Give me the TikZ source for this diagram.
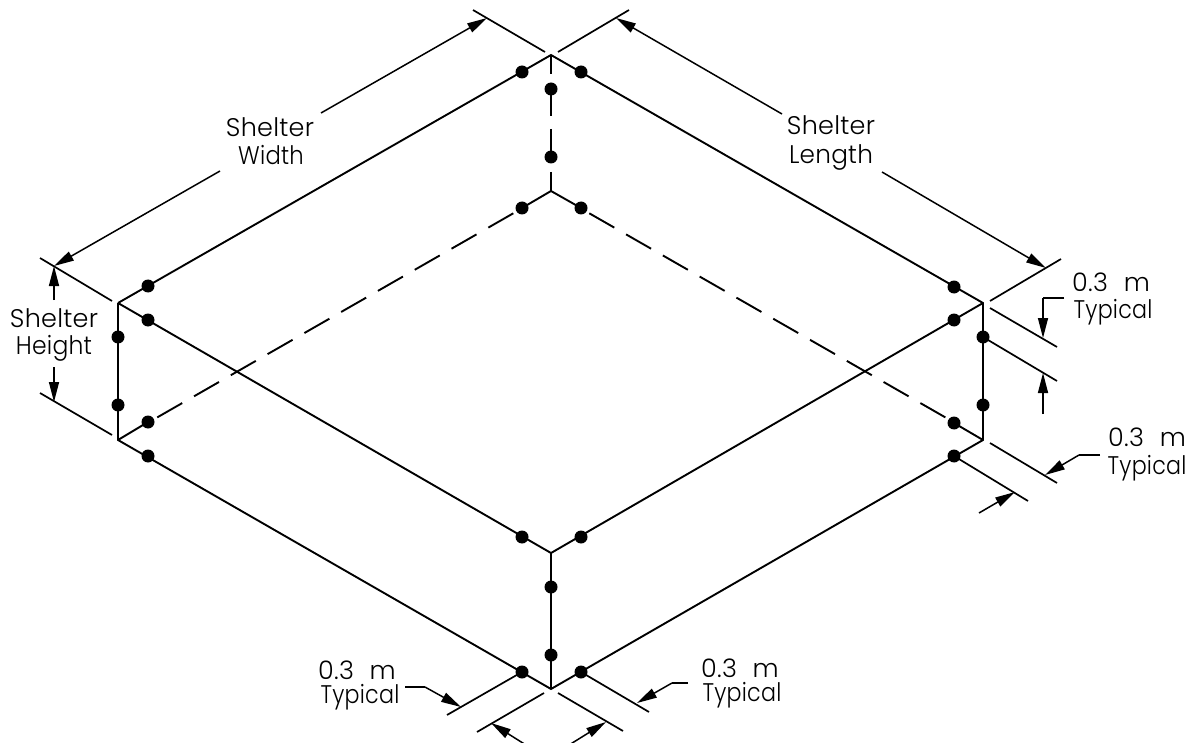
\documentclass[tikz,border=0pt]{standalone}
\usepackage{fontspec}
\usepackage{graphicx}
\newfontfamily\cadfont[LetterSpace=1.0]{Poppins Light}
\usetikzlibrary{arrows.meta}
\newcommand{\gapm}{0.3\hspace{0.62em}m}
\newcommand{\typ}{\scalebox{0.87}[1]{Typical}}
\tikzset{
  edge/.style={line width=1.9pt,black},
  ext/.style={line width=1.7pt,black},
  dim/.style={line width=1.5pt,black,-{Triangle[length=20pt,width=10pt]}},
  plain/.style={line width=1.5pt,black},
  back/.style={line width=1.9pt,black,dash pattern=on 28.8pt off 13.6pt},
  pt/.style={circle,fill=black,inner sep=0pt,minimum size=13pt},
  lab/.style={anchor=base,inner sep=0pt,font=\cadfont\fontsize{25.5}{25.5}\selectfont}
}
\begin{document}
\begin{tikzpicture}[x=1pt,y=-1pt]
\useasboundingbox (0,0) rectangle (1196,743);
% corners
\coordinate (T) at (551,55);   \coordinate (Tb) at (551,191);
\coordinate (L) at (118,303);  \coordinate (Lb) at (118,440);
\coordinate (R) at (983,303);  \coordinate (Rb) at (983,440);
\coordinate (F) at (551,553);  \coordinate (Fb) at (551,689);
% dots
\foreach \n/\x/\y in {a1/522/72,a2/581/72,a3/551/89,a4/551/157,a5/522/208,a6/581/208,
  b1/148/286,b2/148/320,b3/118/337,b4/118/405,b5/148/422,b6/148/456,
  c1/954/287,c2/954/320,c3/983/337,c4/983/405,c5/954/423,c6/954/456,
  d1/522/537,d2/581/537,d3/551/587,d4/551/655,d5/522/672,d6/581/672}
  \node[pt] (\n) at (\x,\y) {};
% solid edges
\draw[edge] (L) -- (T) -- (R) -- (Rb) -- (Fb) -- (Lb) -- (L);
\draw[edge] (L) -- (F) -- (R);
\draw[edge] (F) -- (Fb);
% hidden edges
\draw[edge] (Tb) -- (a5.center);
\draw[edge] (Tb) -- (a6.center);
\draw[edge] (Lb) -- (b5.center);
\draw[edge] (Rb) -- (c5.center);
\coordinate (ls) at (513.3,213.3); \coordinate (le) at (156.7,417.7);
\coordinate (rs) at (589.3,213.3); \coordinate (re) at (945.9,417.7);
\draw[back] (ls) -- (le);
\draw[back] (rs) -- (re);
\coordinate (v1) at (551,74);  \coordinate (v2) at (551,116.5);
\coordinate (v3) at (551,129); \coordinate (v4) at (551,172);
\draw[edge] (T) -- (v1);
\draw[edge] (a3.center) -- (v2);
\draw[edge] (v3) -- (a4.center);
\draw[edge] (v4) -- (Tb);
% extension lines
\coordinate (e1a) at (473,10);   \coordinate (e1b) at (545,52);
\coordinate (e2a) at (558,52);   \coordinate (e2b) at (629,10);
\coordinate (e3a) at (40,258);   \coordinate (e3b) at (112,301);
\coordinate (e4a) at (990,301);  \coordinate (e4b) at (1061,259);
\coordinate (e5a) at (40,393);   \coordinate (e5b) at (112,435);
\coordinate (e6a) at (990,308);  \coordinate (e6b) at (1057,347);
\coordinate (e7b) at (1057,381);
\coordinate (e8a) at (990,443);  \coordinate (e8b) at (1057,483);
\coordinate (e9b) at (1028,501);
\coordinate (e10b) at (447,715); \coordinate (e11b) at (649,712);
\coordinate (e12a) at (544,693); \coordinate (e12b) at (477,732);
\coordinate (e13a) at (558,693); \coordinate (e13b) at (623,731);
\foreach \p/\q in {e1a/e1b,e2a/e2b,e3a/e3b,e4a/e4b,e5a/e5b,e6a/e6b,c3.center/e7b,e8a/e8b,c6.center/e9b,
  d5.center/e10b,d6.center/e11b,e12a/e12b,e13a/e13b}
  \draw[ext] (\p) -- (\q);
% Shelter Width
\coordinate (wt1) at (54,266);  \coordinate (w1) at (220,171);
\coordinate (wt2) at (487,18);  \coordinate (w2) at (321,113);
\draw[dim] (w1) -- (wt1);
\draw[dim] (w2) -- (wt2);
% Shelter Length
\coordinate (lt1) at (616,18);  \coordinate (l1) at (782,114);
\coordinate (lt2) at (1046,268);\coordinate (l2) at (882,172);
\draw[dim] (l1) -- (lt1);
\draw[dim] (l2) -- (lt2);
% Shelter Height
\coordinate (h1) at (54,300);  \coordinate (h2) at (54,367); \coordinate (ht2) at (54,402);
\draw[dim] (h1) -- (wt1);
\draw[dim] (h2) -- (ht2);
% 0.3 m leaders
\coordinate (p1a) at (1064,298); \coordinate (p1b) at (1043,298); \coordinate (p1t) at (1043,338);
\draw[plain] (p1a) -- (p1b);
\draw[dim] (p1b) -- (p1t);
\coordinate (p2a) at (1043,414); \coordinate (p2t) at (1043,373);
\draw[dim] (p2a) -- (p2t);
\coordinate (p3a) at (1100,455); \coordinate (p3b) at (1079,455); \coordinate (p3t) at (1045,475);
\draw[plain] (p3a) -- (p3b);
\draw[dim] (p3b) -- (p3t);
\coordinate (p4a) at (979,513); \coordinate (p4t) at (1015,492);
\draw[dim] (p4a) -- (p4t);
\coordinate (p5a) at (405,687); \coordinate (p5b) at (425,687); \coordinate (p5t) at (461,707);
\draw[plain] (p5a) -- (p5b);
\draw[dim] (p5b) -- (p5t);
\coordinate (p6a) at (688,683); \coordinate (p6b) at (672,683); \coordinate (p6t) at (637,703);
\draw[plain] (p6a) -- (p6b);
\draw[dim] (p6b) -- (p6t);
\coordinate (p7a) at (526,745); \coordinate (p7t) at (491,723);
\draw[dim] (p7a) -- (p7t);
\coordinate (p8a) at (569,745); \coordinate (p8t) at (606,722);
\draw[dim] (p8a) -- (p8t);
% labels
\node[lab] (t1) at (270,137) {Shelter};
\node[lab] (t2) at (271,165) {\scalebox{0.89}[1]{Width}};
\node[lab] (t3) at (831,135) {Shelter};
\node[lab] (t4) at (831,164) {\scalebox{0.97}[1]{Length}};
\node[lab] (t5) at (54,327) {Shelter};
\node[lab] (t6) at (54,354) {\scalebox{0.92}[1]{Height}};
\node[lab] (t7) at (1111,291) {\gapm};
\node[lab] (t8) at (1113,318) {\typ};
\node[lab] (t9) at (1147,446) {\gapm};
\node[lab] (t10) at (1147,474) {\typ};
\node[lab] (t11) at (357,679) {\gapm};
\node[lab] (t12) at (360,703) {\typ};
\node[lab] (t13) at (740,677) {\gapm};
\node[lab] (t14) at (742,701) {\typ};
\end{tikzpicture}
\end{document}
